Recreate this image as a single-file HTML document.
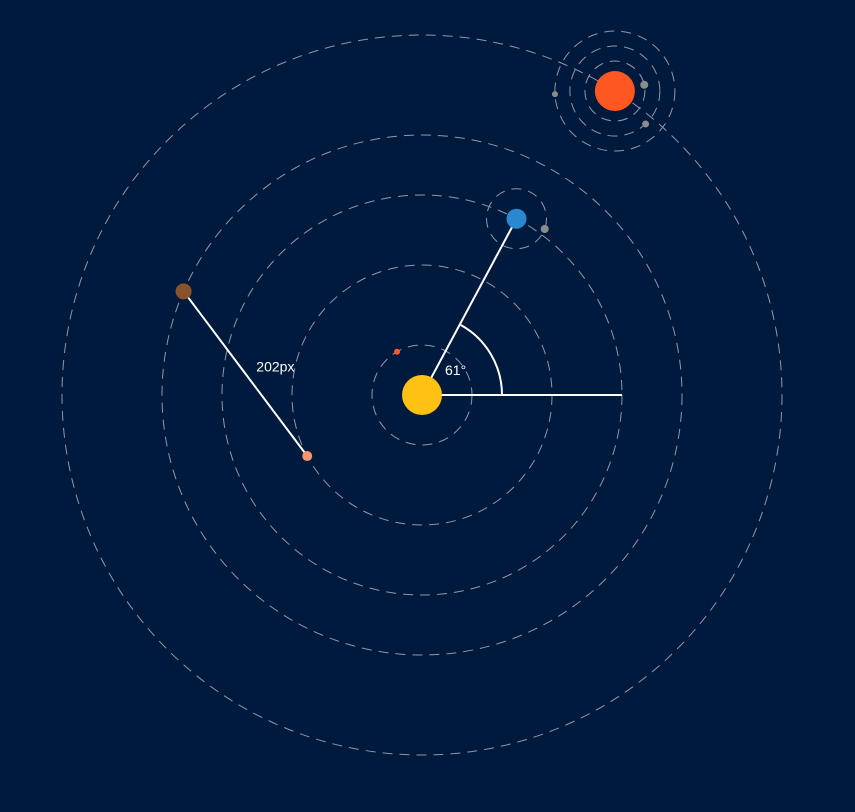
<!DOCTYPE html>
<html><head><meta charset="utf-8"><style>
html,body{margin:0;padding:0;background:#001a3d;}
svg{display:block;font-family:"Liberation Sans",sans-serif;}
</style></head><body>
<svg width="855" height="812">
<rect width="855" height="812" fill="#001a3d"/>
<g id="orbits" fill="none" stroke="#8f98ab" stroke-width="1" stroke-dasharray="10,7"></g>
<g id="marks"></g>
</svg>
<script>
const cx=422, cy=395;
const orbitRadii=[50,130,200,260,360];
const planetNames=['mercury','venus','earth','mars','jupiter'];
const planetOrbit=[50,130,200,260,360];
const planetAngle=[120,-152,61.8,156.5,57.6];
const planetR=[3,5,10,8,20];
const planetColor=['#ff5a2a','#f4956a','#2a88d0','#8a522b','#ff5722'];
const moonParent=[2,4,4,4];
const moonOrbit=[30,30,45,60];
const moonAngle=[-20,12,-47,-177];
const moonR=[4,4,3.5,3];
const measureAngle=61;
const measureLabel='202px';
const NS='http://www.w3.org/2000/svg';
function el(t,a,p){const e=document.createElementNS(NS,t);for(const k in a)e.setAttribute(k,a[k]);(p||document.getElementById('marks')).appendChild(e);return e;}
function pos(r,a,ox,oy){const t=a*Math.PI/180;return [ox+r*Math.cos(t),oy-r*Math.sin(t)];}
const og=document.getElementById('orbits');
orbitRadii.forEach((r,i)=>{const c=el('circle',{cx,cy,r},og);

});
const pp=planetOrbit.map((r,i)=>pos(r,planetAngle[i],cx,cy));
moonParent.forEach((p,i)=>{const c=el('circle',{cx:pp[p][0],cy:pp[p][1],r:moonOrbit[i]},og);

});
const ln=el('line',{x1:pp[3][0],y1:pp[3][1],x2:pp[1][0],y2:pp[1][1],stroke:'#fff','stroke-width':2});


const mx=(pp[3][0]+pp[1][0])/2, my=(pp[3][1]+pp[1][1])/2;
const tl=el('text',{x:mx+30,y:my-2,fill:'#fff','font-size':14,'text-anchor':'middle'});tl.textContent=measureLabel;


const l2=el('line',{x1:cx,y1:cy,x2:pp[2][0],y2:pp[2][1],stroke:'#fff','stroke-width':2});


const l3=el('line',{x1:cx,y1:cy,x2:cx+200,y2:cy,stroke:'#fff','stroke-width':2});


const ae=pos(80,measureAngle,cx,cy);
const arc=el('path',{d:`M${cx+80},${cy} A80,80 0 0 0 ${ae[0]},${ae[1]}`,fill:'none',stroke:'#fff','stroke-width':2});


const at=el('text',{x:cx+23,y:cy-20,fill:'#fff','font-size':14});at.textContent=measureAngle+'°';


const sun=el('circle',{cx,cy,r:20,fill:'#ffc214'});


pp.forEach((p,i)=>{const c=el('circle',{cx:p[0],cy:p[1],r:planetR[i],fill:planetColor[i]});

});
moonParent.forEach((p,i)=>{const m=pos(moonOrbit[i],moonAngle[i],pp[p][0],pp[p][1]);
const c=el('circle',{cx:m[0],cy:m[1],r:moonR[i],fill:'#8c8c8c'});

});
</script>
</body></html>
